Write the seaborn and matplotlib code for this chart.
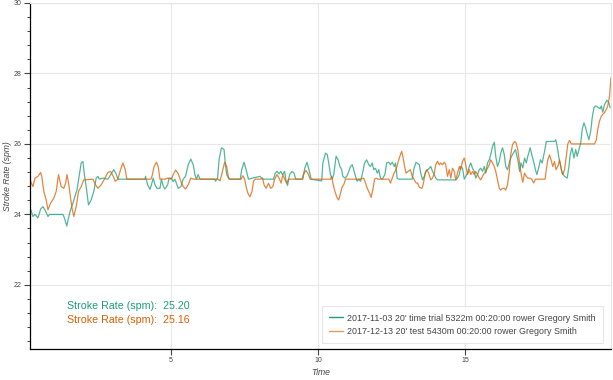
import numpy as np
import pandas as pd
import seaborn as sns
import matplotlib.pyplot as plt
from matplotlib.ticker import MultipleLocator
from matplotlib.lines import Line2D

# workout 1: 2017-11-03 20' time trial
time_1 = [0.23, 0.31, 0.38, 0.48, 0.57, 0.65, 0.72, 0.82, 0.87, 1.33, 1.38, 1.46, 1.52, 1.59,
          1.67, 1.72, 1.81, 1.87, 1.95, 2.01, 2.06, 2.12, 2.20, 2.29, 2.38, 2.46, 2.52, 2.57,
          2.69, 2.86, 2.97, 3.06, 3.14, 3.20, 4.12, 4.14, 4.21, 4.29, 4.34, 4.40, 4.46, 4.53,
          4.63, 4.68, 4.74, 4.80, 4.89, 4.94, 5.02, 5.08, 5.14, 5.25, 5.34, 5.42, 5.50, 5.59,
          5.68, 5.76, 5.82, 5.87, 5.93, 5.99, 6.50, 6.52, 6.59, 6.64, 6.72, 6.81, 6.85, 6.90,
          6.98, 7.36, 7.41, 7.49, 7.56, 7.64, 8.03, 8.13, 8.49, 8.55, 8.61, 8.68, 8.74, 8.80,
          8.87, 8.92, 8.97, 9.04, 9.12, 9.19, 9.25, 9.49, 9.55, 9.63, 9.70, 9.77, 10.13, 10.17,
          10.26, 10.32, 10.37, 10.43, 10.49, 10.54, 10.62, 10.69, 10.75, 10.81, 10.85, 10.92,
          10.98, 11.03, 11.11, 11.17, 11.22, 11.28, 11.34, 11.39, 11.45, 11.51, 11.59, 11.66,
          11.73, 11.79, 11.85, 11.90, 11.96, 12.02, 12.07, 12.13, 12.19, 12.28, 12.34, 12.41,
          12.47, 12.53, 12.60, 12.64, 12.70, 12.76, 13.21, 13.27, 13.34, 13.45, 13.50, 13.56,
          13.62, 13.67, 13.73, 13.79, 13.84, 13.90, 13.96, 14.01, 14.07, 14.69, 14.75, 14.81,
          14.86, 14.92, 14.98, 15.03, 15.09, 15.15, 15.20, 15.26, 15.32, 15.37, 15.43, 15.49,
          15.54, 15.60, 15.66, 15.71, 15.77, 15.83, 15.88, 15.94, 16.00, 16.05, 16.11, 16.17,
          16.22, 16.28, 16.34, 16.39, 16.45, 16.51, 16.56, 16.62, 16.72, 16.80, 16.86, 16.91,
          16.97, 17.03, 17.09, 17.14, 17.22, 17.29, 17.35, 17.40, 17.45, 17.52, 17.57, 17.63,
          17.71, 17.77, 18.05, 18.09, 18.14, 18.20, 18.26, 18.31, 18.39, 18.48, 18.54, 18.58,
          18.64, 18.71, 18.77, 18.82, 18.88, 18.94, 18.99, 19.05, 19.11, 19.15, 19.22, 19.28,
          19.33, 19.39, 19.45, 19.60, 19.64, 19.69, 19.75, 19.83, 19.90, 19.94]
spm_1 = [24.15, 23.94, 24.0, 23.9, 24.15, 24.22, 24.13, 23.94, 24.0, 24.0, 23.9, 23.67, 23.9, 24.13,
         24.32, 24.46, 24.7, 25.03, 25.46, 25.5, 25.13, 24.79, 24.27, 24.41, 24.65, 25.03, 25.08, 25.0,
         25.03, 25.0, 25.15, 25.27, 25.15, 25.0, 25.0, 25.08, 24.84, 24.71, 24.84, 25.03, 24.84, 24.74,
         24.74, 25.0, 24.8, 24.72, 24.84, 25.03, 25.03, 24.93, 25.0, 24.74, 24.79, 25.0, 25.08, 25.41,
         25.57, 25.41, 25.13, 25.0, 25.13, 25.0, 25.0, 24.94, 25.03, 25.55, 25.89, 25.84, 25.46, 25.13,
         25.0, 25.0, 25.27, 25.48, 25.27, 25.0, 25.08, 25.0, 25.0, 25.17, 25.22, 25.15, 25.22, 25.13,
         25.22, 24.94, 24.82, 25.13, 25.22, 25.17, 25.0, 25.0, 25.3, 25.48, 25.27, 25.0, 24.95, 25.46,
         25.74, 25.7, 25.46, 25.13, 25.0, 25.13, 25.65, 25.55, 25.36, 25.27, 25.08, 25.03,
         25.08, 25.17, 25.36, 25.41, 25.27, 25.08, 24.94, 25.0, 24.94, 25.13, 25.46, 25.55,
         25.41, 25.36, 25.46, 25.27, 25.31, 25.17, 25.27, 25.03, 25.0, 25.13, 25.46, 25.48,
         25.41, 25.48, 25.36, 25.46, 25.02, 25.0, 25.0, 25.31, 25.48, 25.41, 25.17, 24.98,
         25.08, 25.22, 25.27, 25.31, 25.36, 25.22, 25.13, 25.03, 24.98, 24.98, 25.03, 25.13,
         25.36, 25.31, 25.0, 25.08, 25.17, 25.36, 25.46, 25.31, 25.22, 25.03, 25.13, 25.27,
         25.31, 25.22, 25.36, 25.17, 25.46, 25.55, 25.7, 25.93, 26.05, 25.65, 25.36, 25.51,
         25.74, 25.89, 25.7, 25.36, 25.27, 25.46, 25.6, 25.7, 25.84, 25.55, 25.22, 25.46,
         25.32, 25.6, 25.46, 25.65, 25.89, 25.65, 25.46, 25.27, 25.13, 25.36, 25.55, 25.46,
         25.79, 26.07, 26.07, 26.12, 25.93, 25.6, 25.36, 25.17, 25.08, 25.03, 25.36, 25.69,
         25.89, 25.6, 25.84, 25.65, 25.84, 26.03, 26.41, 26.6, 26.46, 26.31, 26.12, 26.36,
         26.74, 27.03, 27.08, 27.0, 27.08, 26.9, 27.12, 27.24, 27.17, 27.03]

# workout 2: 2017-12-13 20' test
time_2 = [0.23, 0.31, 0.38, 0.48, 0.57, 0.61, 0.68, 0.76, 0.82, 0.91, 1.02, 1.10, 1.18, 1.27,
          1.36, 1.42, 1.47, 1.53, 1.59, 1.64, 1.70, 1.78, 1.86, 1.95, 2.04, 2.35, 2.44, 2.52,
          2.63, 2.74, 2.86, 2.95, 3.03, 3.11, 3.20, 3.29, 3.37, 3.45, 3.50, 4.32, 4.36, 4.43,
          4.51, 4.57, 4.63, 4.80, 4.90, 5.02, 5.08, 5.16, 5.25, 5.34, 5.42, 5.50, 5.59, 5.68,
          5.76, 6.61, 6.67, 6.72, 6.83, 6.90, 6.96, 7.02, 7.39, 7.45, 7.51, 7.56, 7.62, 7.69,
          7.76, 7.81, 7.87, 8.06, 8.12, 8.17, 8.24, 8.32, 8.40, 8.47, 8.53, 8.61, 8.68, 8.75,
          8.81, 8.87, 8.95, 9.00, 9.46, 9.51, 9.59, 9.66, 9.74, 10.43, 10.47, 10.51, 10.58,
          10.66, 10.71, 10.77, 10.83, 10.88, 10.94, 11.45, 11.56, 11.62, 11.68, 11.76, 11.81,
          11.87, 11.93, 11.98, 12.05, 12.41, 12.47, 12.53, 12.59, 12.66, 12.72, 12.79, 12.85,
          12.89, 12.95, 13.00, 13.07, 13.15, 13.21, 13.27, 13.34, 13.39, 13.45, 13.54, 13.58,
          13.65, 13.71, 13.77, 13.84, 13.90, 13.96, 14.01, 14.07, 14.13, 14.18, 14.24, 14.30,
          14.35, 14.41, 14.47, 14.52, 14.58, 14.64, 14.69, 14.75, 14.81, 14.86, 14.92, 14.98,
          15.03, 15.09, 15.15, 15.20, 15.26, 15.32, 15.37, 15.43, 15.49, 15.54, 15.60, 15.66,
          15.71, 15.77, 15.83, 15.88, 15.94, 16.00, 16.05, 16.11, 16.17, 16.22, 16.28, 16.34,
          16.39, 16.45, 16.51, 16.56, 16.62, 16.69, 16.74, 16.80, 16.86, 16.91, 16.97, 17.03,
          17.09, 17.14, 17.22, 17.29, 17.34, 17.40, 17.69, 17.73, 17.77, 17.82, 17.88, 17.93,
          17.99, 18.05, 18.10, 18.16, 18.22, 18.28, 18.33, 18.39, 18.45, 18.50, 18.56, 18.62,
          19.41, 19.47, 19.52, 19.58, 19.64, 19.69, 19.75, 19.81, 19.86, 19.92, 19.97]
spm_2 = [24.94, 24.79, 25.03, 25.08, 25.19, 25.08, 24.65, 24.41, 24.13, 24.32, 24.46, 24.65, 25.13, 24.79,
         24.74, 24.88, 25.13, 24.84, 24.46, 24.17, 23.94, 24.22, 24.65, 24.79, 24.98, 25.0, 24.84, 24.74,
         24.84, 25.0, 25.19, 25.22, 25.1, 24.94, 25.0, 25.27, 25.46, 25.27, 25.0, 25.0, 25.08, 25.36,
         25.48, 25.36, 25.0, 25.0, 25.03, 25.0, 25.13, 25.26, 25.16, 24.94, 24.79, 24.72, 24.84, 25.03,
         25.0, 25.0, 24.95, 25.1, 25.48, 25.36, 25.05, 25.0, 25.0, 25.1, 25.0, 24.79, 24.6, 24.5,
         24.65, 24.94, 25.0, 25.0, 25.03, 24.84, 24.74, 24.88, 24.74, 24.79, 25.0, 25.13, 25.03, 24.89,
         25.13, 25.0, 24.89, 25.0, 25.0, 25.13, 25.25, 25.17, 25.0, 25.0, 25.08, 24.89, 24.65,
         24.46, 24.41, 24.6, 24.79, 24.84, 25.0, 25.0, 25.03, 24.89, 24.74, 24.6, 24.48,
         24.7, 25.0, 25.03, 25.0, 25.0, 24.89, 25.03, 25.17, 25.27, 25.46, 25.65, 25.79,
         25.65, 25.36, 25.17, 25.22, 25.27, 25.08, 25.0, 24.89, 24.89, 24.77, 24.74, 24.84,
         25.17, 25.27, 25.17, 24.98, 25.03, 25.17, 25.41, 25.51, 25.41, 25.46, 25.41, 25.48,
         25.41, 25.08, 25.27, 25.03, 25.31, 25.22, 24.98, 25.17, 25.36, 25.27, 25.51, 25.6,
         25.41, 25.13, 25.27, 25.13, 25.22, 25.13, 25.22, 25.13, 25.03, 24.98, 25.08, 25.17,
         25.22, 25.31, 25.41, 25.55, 25.46, 25.36, 25.22, 24.98, 24.74, 24.69, 24.74, 24.74,
         24.69, 24.84, 25.22, 25.7, 25.98, 26.07, 26.03, 25.84, 25.46, 25.17, 24.91, 25.17,
         25.08, 25.03, 25.03, 24.98, 24.89, 25.0, 25.0, 25.0, 25.27, 25.55, 25.69, 25.55,
         25.36, 25.5, 25.27, 25.36, 25.55, 25.27, 25.13, 25.27, 25.65, 26.0, 26.1, 26.0,
         26.0, 26.12, 26.41, 26.65, 26.79, 26.84, 26.89, 26.98, 27.08, 27.36, 27.88]

labels = ["2017-11-03 20' time trial 5322m 00:20:00 rower Gregory Smith",
          "2017-12-13 20' test 5430m 00:20:00 rower Gregory Smith"]
averages = [25.20, 25.16]
colors = ["#1b9e77", "#d95f02"]

df1 = pd.DataFrame({"Time": time_1, "spm": spm_1})
df2 = pd.DataFrame({"Time": time_2, "spm": spm_2})

sns.set_style("white")
plt.rcParams['font.family'] = ['Liberation Sans', 'DejaVu Sans']

fig = plt.figure(figsize=(6.13, 3.80), dpi=100)
ax = fig.add_axes([30 / 613, 1 - 349 / 380, 581 / 613, 346 / 380])

for d, c in zip([df1, df2], colors):
    sns.lineplot(data=d, x="Time", y="spm", color=c, alpha=0.75, lw=0.9,
                 estimator=None, sort=False, ax=ax)

ax.set_xlim(0.21, 19.97)
ax.set_ylim(20.18, 30)
ax.xaxis.set_major_locator(MultipleLocator(5))
ax.yaxis.set_major_locator(MultipleLocator(2))
ax.yaxis.set_minor_locator(MultipleLocator(0.4))

ax.grid(True, which="major", color="#e8e8e8", lw=0.8)
ax.set_axisbelow(True)
for s in ["top", "right"]:
    ax.spines[s].set_color("#e5e5e5")
    ax.spines[s].set_linewidth(0.8)
for s in ["left", "bottom"]:
    ax.spines[s].set_color("black")
    ax.spines[s].set_linewidth(0.9)

ax.tick_params(axis="both", which="major", direction="out", length=4, width=0.8,
               color="#444444", labelsize=5, labelcolor="#444444", pad=2)
ax.tick_params(axis="y", which="minor", direction="out", length=2.5, width=0.7,
               color="#444444", left=True)
ax.tick_params(axis="x", bottom=True)
ax.tick_params(axis="y", left=True)

ax.set_xlabel("Time", fontsize=6.2, style="italic", color="#444444")
ax.set_ylabel("Stroke Rate (spm)", fontsize=6.2, style="italic", color="#444444")
ax.xaxis.set_label_coords(0.5, -0.055)
ax.yaxis.set_label_coords(-0.031, 0.5)

ax.text(0.063, 0.124, f"Stroke Rate (spm):  {averages[0]:.2f}", color=colors[0],
        fontsize=7.7, transform=ax.transAxes, va="center")
ax.text(0.063, 0.084, f"Stroke Rate (spm):  {averages[1]:.2f}", color=colors[1],
        fontsize=7.7, transform=ax.transAxes, va="center")

handles = [Line2D([], [], color=colors[0], lw=1.0),
           Line2D([], [], color=colors[1], lw=1.0, alpha=0.65)]
leg = ax.legend(handles, labels, loc="lower right", bbox_to_anchor=(0.986, 0.017),
                borderaxespad=0, fontsize=6.4, frameon=True, fancybox=False,
                edgecolor="#e5e5e5", framealpha=0.9, handlelength=1.5,
                handletextpad=0.5, borderpad=0.8, labelspacing=0.5)
leg.get_frame().set_linewidth(0.8)
for t in leg.get_texts():
    t.set_color("#444444")

fig.savefig("out.png", dpi=100)
